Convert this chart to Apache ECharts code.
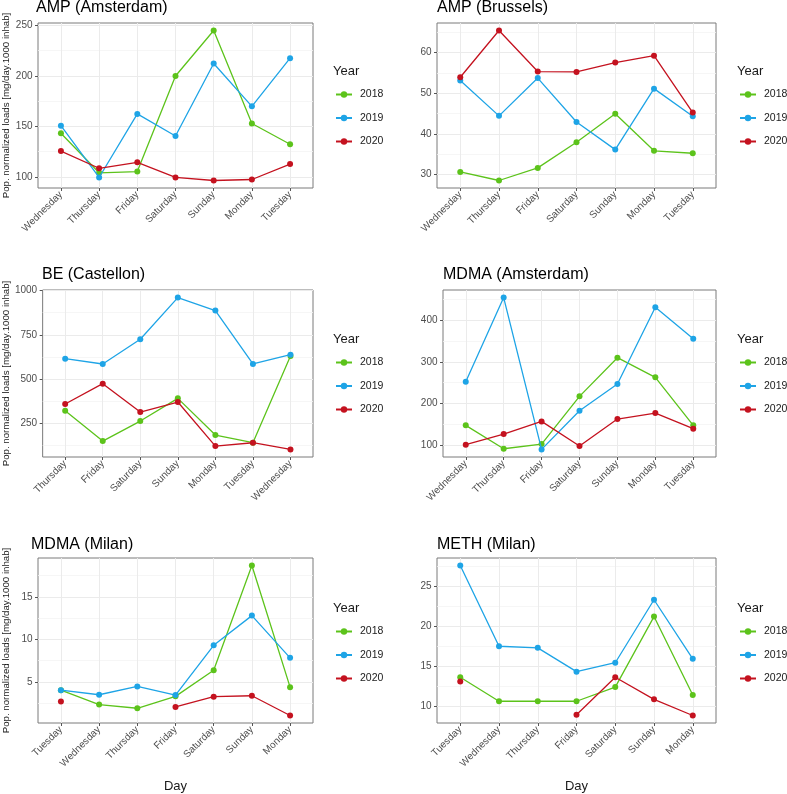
<!DOCTYPE html>
<html>
<head>
<meta charset="utf-8">
<script src="https://cdn.jsdelivr.net/npm/echarts@6/dist/echarts.min.js"></script>
<style>html,body{margin:0;padding:0;background:#fff}#c{width:787px;height:794px}</style>
</head>
<body>
<div id="c"></div>
<script>
// ---- data ----
const years = ['2018', '2019', '2020'];
const colors = ['#5cc31b', '#1ea4e6', '#c4121f'];

const titles = ['AMP (Amsterdam)', 'AMP (Brussels)', 'BE (Castellon)', 'MDMA (Amsterdam)', 'MDMA (Milan)', 'METH (Milan)'];

const daysWed = ['Wednesday', 'Thursday', 'Friday', 'Saturday', 'Sunday', 'Monday', 'Tuesday'];
const daysThu = ['Thursday', 'Friday', 'Saturday', 'Sunday', 'Monday', 'Tuesday', 'Wednesday'];
const daysTue = ['Tuesday', 'Wednesday', 'Thursday', 'Friday', 'Saturday', 'Sunday', 'Monday'];

// AMP (Amsterdam)
const ampAms2018 = [143.1, 104.0, 105.2, 199.8, 244.8, 152.8, 132.3];
const ampAms2019 = [150.6, 99.4, 162.3, 140.4, 212.2, 169.8, 217.4];
const ampAms2020 = [125.5, 108.5, 114.4, 99.4, 96.4, 97.4, 112.7];
// AMP (Brussels)
const ampBru2018 = [30.6, 28.5, 31.6, 37.9, 44.9, 35.8, 35.2];
const ampBru2019 = [53.1, 44.4, 53.7, 42.9, 36.1, 51.1, 44.3];
const ampBru2020 = [53.9, 65.4, 55.3, 55.2, 57.5, 59.2, 45.2];
// BE (Castellon)
const beCas2018 = [321.6, 150.1, 263.2, 391.4, 184.1, 140.8, 630.7];
const beCas2019 = [615.6, 585.5, 724.9, 960.4, 886.9, 585.5, 638.2];
const beCas2020 = [359.3, 474.3, 314.1, 370.6, 121.9, 140.8, 103.1];
// MDMA (Amsterdam)
const mdmaAms2018 = [147.9, 92.0, 103.2, 217.3, 309.8, 262.8, 147.9];
const mdmaAms2019 = [252.4, 453.5, 90.4, 183.0, 246.8, 430.3, 355.3];
const mdmaAms2020 = [101.6, 127.1, 157.4, 98.4, 163.0, 177.4, 139.9];
// MDMA (Milan)
const mdmaMil2018 = [4.03, 2.33, 1.90, 3.30, 6.36, 18.68, 4.38];
const mdmaMil2019 = [4.03, 3.49, 4.46, 3.45, 9.30, 12.79, 7.83];
const mdmaMil2020 = [2.71, null, null, 2.05, 3.26, 3.37, 1.05];
// METH (Milan)
const methMil2018 = [13.65, 10.66, 10.66, 10.66, 12.42, 21.19, 11.43];
const methMil2019 = [27.54, 17.50, 17.30, 14.34, 15.45, 23.28, 15.94];
const methMil2020 = [13.11, null, null, 8.98, 13.65, 10.90, 8.89];

// tick labels
const yTicks1 = [100, 150, 200, 250];
const yTicks2 = [30, 40, 50, 60];
const yTicks3 = [250, 500, 750, 1000];
const yTicks4 = [100, 200, 300, 400];
const yTicks5 = [5, 10, 15];
const yTicks6 = [10, 15, 20, 25];
const yMinor1 = [125, 175, 225];
const yMinor2 = [35, 45, 55, 65];
const yMinor3 = [125, 375, 625, 875];
const yMinor4 = [150, 250, 350, 450];
const yMinor5 = [2.5, 7.5, 12.5, 17.5];
const yMinor6 = [12.5, 17.5, 22.5, 27.5];

const yTitle = 'Pop. normalized loads [mg/day.1000 inhab]';
const xTitle = 'Day';
const legendTitle = 'Year';

const panels = [
  {title: titles[0], days: daysWed, series: [ampAms2018, ampAms2019, ampAms2020], ticks: yTicks1, minor: yMinor1},
  {title: titles[1], days: daysWed, series: [ampBru2018, ampBru2019, ampBru2020], ticks: yTicks2, minor: yMinor2},
  {title: titles[2], days: daysThu, series: [beCas2018, beCas2019, beCas2020], ticks: yTicks3, minor: yMinor3},
  {title: titles[3], days: daysWed, series: [mdmaAms2018, mdmaAms2019, mdmaAms2020], ticks: yTicks4, minor: yMinor4},
  {title: titles[4], days: daysTue, series: [mdmaMil2018, mdmaMil2019, mdmaMil2020], ticks: yTicks5, minor: yMinor5},
  {title: titles[5], days: daysTue, series: [methMil2018, methMil2019, methMil2020], ticks: yTicks6, minor: yMinor6}
];

// ---- layout ----
const layout = [
  {left: 36, top: 23, width: 277, height: 165, titleY: 8, legX: 333, legY: 72, yName: true, xName: false},
  {left: 437, top: 23, width: 279, height: 165, titleY: 8, legX: 737, legY: 72, yName: false, xName: false},
  {left: 42, top: 290, width: 271, height: 167, titleY: 275, legX: 333, legY: 340, yName: true, xName: false},
  {left: 443, top: 290, width: 273, height: 167, titleY: 275, legX: 737, legY: 340, yName: false, xName: false},
  {left: 31, top: 558, width: 282, height: 167, titleY: 545, legX: 333, legY: 609, yName: true, xName: true},
  {left: 437, top: 558, width: 279, height: 167, titleY: 545, legX: 737, legY: 609, yName: false, xName: true}
];

const FONT = '"Liberation Sans", Arial, sans-serif';
const grid = [], xAxis = [], yAxis = [], series = [], legend = [], graphic = [];

panels.forEach((p, k) => {
  const L = layout[k];
  grid.push({left: L.left, top: L.top, width: L.width, height: L.height, show: true,
    borderColor: '#7a7a7a', borderWidth: 1, backgroundColor: '#fff', containLabel: false});

  const all = [].concat(...p.series).filter(v => v !== null);
  const lo = Math.min(...all), hi = Math.max(...all), pad = (hi - lo) * 0.05;

  const dayIdx = p.days.map((d, i) => i);
  xAxis.push({
    type: 'value', gridIndex: k, min: -0.6, max: 6.6, position: 'bottom',
    axisLine: {show: false},
    axisTick: {show: true, length: 3, customValues: dayIdx, lineStyle: {color: '#555', width: 1}},
    axisLabel: {customValues: dayIdx, rotate: 45, margin: 5, fontSize: 10, color: '#4d4d4d', fontFamily: FONT,
      formatter: v => p.days[Math.round(v)]},
    splitLine: {show: true, lineStyle: {color: '#ebebeb', width: 1}},
    name: L.xName ? xTitle : '', nameLocation: 'middle', nameGap: 57,
    nameTextStyle: {fontSize: 13, color: '#1a1a1a', fontFamily: FONT}
  });
  // minor grid axis
  yAxis.push({
    type: 'value', gridIndex: k, min: lo - pad, max: hi + pad, position: 'right',
    axisLine: {show: false}, axisLabel: {show: false},
    axisTick: {show: false, customValues: p.minor},
    splitLine: {show: true, lineStyle: {color: '#f4f4f4', width: 0.8}}
  });
  // major axis
  yAxis.push({
    type: 'value', gridIndex: k, min: lo - pad, max: hi + pad, position: 'left',
    axisLine: {show: false},
    axisTick: {show: true, length: 3, customValues: p.ticks, lineStyle: {color: '#555', width: 1}},
    axisLabel: {customValues: p.ticks, margin: 5.5, fontSize: 10, color: '#4d4d4d', fontFamily: FONT,
      formatter: v => String(v)},
    splitLine: {show: true, lineStyle: {color: '#ebebeb', width: 1}},
    name: L.yName ? yTitle : '', nameLocation: 'middle', nameRotate: 90, nameGap: 27,
    nameTextStyle: {fontSize: 9.7, color: '#1a1a1a', fontFamily: FONT}
  });

  p.series.forEach((vals, j) => {
    series.push({
      name: years[j], type: 'line', xAxisIndex: k, yAxisIndex: 2 * k + 1,
      data: vals.map((v, i) => [i, v === null ? '-' : v]),
      symbol: 'circle', symbolSize: 6, showAllSymbol: true, connectNulls: false,
      lineStyle: {color: colors[j], width: 1.3}, itemStyle: {color: colors[j]},
      emphasis: {disabled: true}, animation: false, z: 3 + j
    });
  });

  legend.push({
    data: years, orient: 'vertical', left: L.legX + 2, top: L.legY + 17, padding: 0,
    itemWidth: 16, itemHeight: 8, itemGap: 12.5, selectedMode: false,
    textStyle: {fontSize: 10.5, color: '#1a1a1a', fontFamily: FONT, padding: [0, 0, 0, 3]}
  });

  graphic.push({type: 'text', left: L.left, top: L.titleY - 8,
    style: {text: p.title, fontSize: 16, fill: '#000', fontFamily: FONT}});
  graphic.push({type: 'text', left: L.legX, top: L.legY - 7,
    style: {text: legendTitle, fontSize: 13, fill: '#1a1a1a', fontFamily: FONT}});
});

const chart = echarts.init(document.getElementById('c'), null, {renderer: 'canvas'});
chart.setOption({
  animation: false,
  backgroundColor: '#fff',
  color: colors,
  grid, xAxis, yAxis, series, legend, graphic
});
</script>
</body>
</html>
